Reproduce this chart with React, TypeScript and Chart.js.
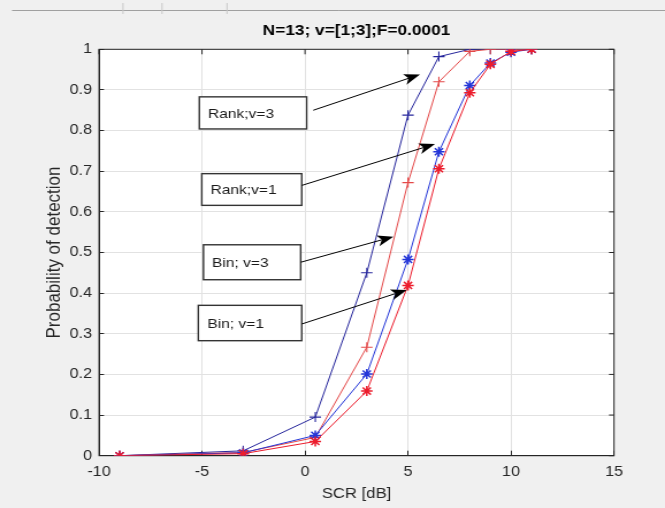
import React, { useEffect, useRef } from 'react';
import { Chart, registerables } from 'chart.js';

Chart.register(...registerables);

// ---- data ----
const scr = [-9, -3, 0.5, 3, 5, 6.5, 8, 9, 10, 11];
const rankV3 = [0, 0.012, 0.095, 0.45, 0.838, 0.982, 1.0, 1.0, 1.0, 1.0];
const rankV1 = [0, 0.008, 0.045, 0.267, 0.672, 0.92, 0.995, 1.0, 1.0, 1.0];
const binV3 = [0, 0.007, 0.05, 0.201, 0.483, 0.748, 0.911, 0.966, 0.993, 1.0];
const binV1 = [0, 0.005, 0.035, 0.159, 0.419, 0.706, 0.893, 0.963, 0.995, 1.0];

const xTickLabels = ['-10', '-5', '0', '5', '10', '15'];
const yTickLabels = ['0', '0.1', '0.2', '0.3', '0.4', '0.5', '0.6', '0.7', '0.8', '0.9', '1'];

const titleText = 'N=13; v=[1;3];F=0.0001';
const xTitle = 'SCR [dB]';
const yTitle = 'Probability of detection';
const noteLabels = ['Rank;v=3', 'Rank;v=1', 'Bin; v=3', 'Bin; v=1'];

// annotation placement (in data units)
const noteBoxX0 = [-5.13, -5.01, -4.93, -5.18];
const noteBoxX1 = [0.08, -0.16, -0.21, -0.16];
const noteBoxY0 = [0.804, 0.616, 0.433, 0.283];
const noteBoxY1 = [0.883, 0.694, 0.519, 0.37];
const noteTextX = [-4.71, -4.58, -4.51, -4.74];
const arrowFromX = [0.4, -0.16, -0.21, -0.16];
const arrowFromY = [0.85, 0.665, 0.476, 0.324];
const arrowToX = [5.58, 6.31, 4.29, 4.94];
const arrowToY = [0.938, 0.767, 0.539, 0.408];

// ---- layout ----
const CW = 578; // internal canvas width (stretched to 665 css px)
const CH = 508;
const S = 665 / CW;
const FONT = "'Liberation Sans', Arial, Helvetica, sans-serif";

const decor = {
  id: 'decor',
  beforeDraw(chart: any) {
    const { ctx, chartArea: a, width, height } = chart;
    ctx.save();
    ctx.fillStyle = '#f0f0f0';
    ctx.fillRect(0, 0, width, height);
    ctx.fillStyle = '#ffffff';
    ctx.fillRect(a.left, a.top, a.right - a.left, a.bottom - a.top);
    // toolbar remnant at the top
    ctx.strokeStyle = '#a0a0a0';
    ctx.lineWidth = 1;
    ctx.beginPath();
    ctx.moveTo(12 / S, 10.5);
    ctx.lineTo(width, 10.5);
    ctx.stroke();
    ctx.strokeStyle = '#c8c8c8';
    [123, 162, 227].forEach((x) => {
      ctx.beginPath();
      ctx.moveTo(x / S, 3);
      ctx.lineTo(x / S, 14);
      ctx.stroke();
    });
    ctx.restore();
  },
  beforeDatasetsDraw(chart: any) {
    const { ctx, chartArea: a, scales } = chart;
    ctx.save();
    ctx.strokeStyle = '#262626';
    ctx.lineWidth = 1;
    ctx.strokeRect(a.left, a.top, a.right - a.left, a.bottom - a.top);
    ctx.beginPath();
    scales.x.ticks.forEach((t: any) => {
      const px = scales.x.getPixelForValue(t.value);
      ctx.moveTo(px, a.top);
      ctx.lineTo(px, a.top + 5);
    });
    scales.y.ticks.forEach((t: any) => {
      const py = scales.y.getPixelForValue(t.value);
      ctx.moveTo(a.right, py);
      ctx.lineTo(a.right - 5 / S, py);
    });
    ctx.stroke();
    ctx.restore();
  },
  afterDatasetsDraw(chart: any) {
    const { ctx, scales } = chart;
    const xs = scales.x;
    const ys = scales.y;
    ctx.save();
    noteLabels.forEach((label, i) => {
      const x0 = xs.getPixelForValue(noteBoxX0[i]);
      const x1 = xs.getPixelForValue(noteBoxX1[i]);
      const y0 = ys.getPixelForValue(noteBoxY1[i]);
      const y1 = ys.getPixelForValue(noteBoxY0[i]);
      ctx.fillStyle = '#ffffff';
      ctx.fillRect(x0, y0, x1 - x0, y1 - y0);
      ctx.strokeStyle = '#333333';
      ctx.lineWidth = 1.4;
      ctx.strokeRect(x0, y0, x1 - x0, y1 - y0);
      ctx.fillStyle = '#1a1a1a';
      ctx.font = `13.5px ${FONT}`;
      ctx.textBaseline = 'middle';
      ctx.textAlign = 'left';
      ctx.fillText(label, xs.getPixelForValue(noteTextX[i]), (y0 + y1) / 2 + 1);

      // arrow (computed in css space, then un-stretched)
      const ax0 = xs.getPixelForValue(arrowFromX[i]) * S;
      const ay0 = ys.getPixelForValue(arrowFromY[i]);
      const ax1 = xs.getPixelForValue(arrowToX[i]) * S;
      const ay1 = ys.getPixelForValue(arrowToY[i]);
      const dx = ax1 - ax0;
      const dy = ay1 - ay0;
      const len = Math.hypot(dx, dy);
      const ux = dx / len;
      const uy = dy / len;
      const nx = -uy;
      const ny = ux;
      const L = 16;
      const W = 5.5;
      const notch = 12;
      const bx = ax1 - ux * L;
      const by = ay1 - uy * L;
      const kx = ax1 - ux * notch;
      const ky = ay1 - uy * notch;
      ctx.strokeStyle = '#000000';
      ctx.lineWidth = 1;
      ctx.beginPath();
      ctx.moveTo(ax0 / S, ay0);
      ctx.lineTo(kx / S, ky);
      ctx.stroke();
      ctx.fillStyle = '#000000';
      ctx.beginPath();
      ctx.moveTo(ax1 / S, ay1);
      ctx.lineTo((bx + nx * W) / S, by + ny * W);
      ctx.lineTo(kx / S, ky);
      ctx.lineTo((bx - nx * W) / S, by - ny * W);
      ctx.closePath();
      ctx.fill();
    });
    ctx.restore();
  },
};

function series(label: string, ys: number[], color: string, style: string, order: number, bw: number) {
  return {
    label,
    data: scr.map((x, i) => ({ x, y: ys[i] })),
    borderColor: color,
    backgroundColor: color,
    pointBorderColor: color,
    pointStyle: style,
    pointRadius: 5,
    pointBorderWidth: bw,
    borderWidth: 1,
    tension: 0,
    fill: false,
    order,
  };
}

export default function App() {
  const ref = useRef<HTMLCanvasElement>(null);
  useEffect(() => {
    document.body.style.margin = '0';
    const canvas = ref.current as HTMLCanvasElement;
    const chart = new Chart(canvas, {
      type: 'line',
      data: {
        datasets: [
          series(noteLabels[0], rankV3, '#26269c', 'cross', 3, 1.1),
          series(noteLabels[1], rankV1, '#e44848', 'cross', 2, 1.1),
          series(noteLabels[2], binV3, '#2436d8', 'star', 1, 1.5),
          series(noteLabels[3], binV1, '#ec1c2c', 'star', 0, 1.5),
        ] as any,
      },
      options: {
        responsive: false,
        animation: false,
        devicePixelRatio: 1,
        layout: { padding: { left: 0, right: CW - 614 / S, top: 0, bottom: 0 } },
        plugins: {
          legend: { display: false },
          tooltip: { enabled: false },
          title: {
            display: true,
            fullSize: false,
            text: titleText,
            color: '#000000',
            font: { family: FONT, size: 15, weight: 'bold' },
            padding: { top: 22, bottom: 9.3 },
          },
        },
        scales: {
          x: {
            type: 'linear',
            min: -10,
            max: 15,
            afterFit: (s: any) => {
              s.height = CH - 455.7;
            },
            ticks: {
              stepSize: 5,
              autoSkip: false,
              maxRotation: 0,
              padding: 12.9,
              color: '#262626',
              font: { family: FONT, size: 14 },
              callback: (_v: any, i: number) => xTickLabels[i],
            },
            grid: { color: '#e2e2e2', lineWidth: 1, tickLength: -5, tickColor: '#262626' },
            border: { color: '#262626', width: 1 },
            title: {
              display: true,
              text: xTitle,
              color: '#262626',
              font: { family: FONT, size: 14.5 },
              padding: { top: 0, bottom: 5.3 },
            },
          },
          y: {
            type: 'linear',
            min: 0,
            max: 1,
            afterFit: (s: any) => {
              s.width = 99 / S;
            },
            ticks: {
              stepSize: 0.1,
              autoSkip: false,
              padding: 10.4,
              color: '#262626',
              font: { family: FONT, size: 14 },
              callback: (_v: any, i: number) => yTickLabels[i],
            },
            grid: { color: '#e2e2e2', lineWidth: 1, tickLength: -5 / S, tickColor: '#262626' },
            border: { color: '#262626', width: 1 },
            title: {
              display: true,
              text: yTitle,
              color: '#262626',
              font: { family: FONT, size: 17 },
              padding: { top: 37.6, bottom: 0 },
            },
          },
        },
      } as any,
      plugins: [decor],
    });
    return () => chart.destroy();
  }, []);
  return (
    <canvas
      ref={ref}
      width={CW}
      height={CH}
      style={{ width: '665px', height: '508px', display: 'block' }}
    />
  );
}
